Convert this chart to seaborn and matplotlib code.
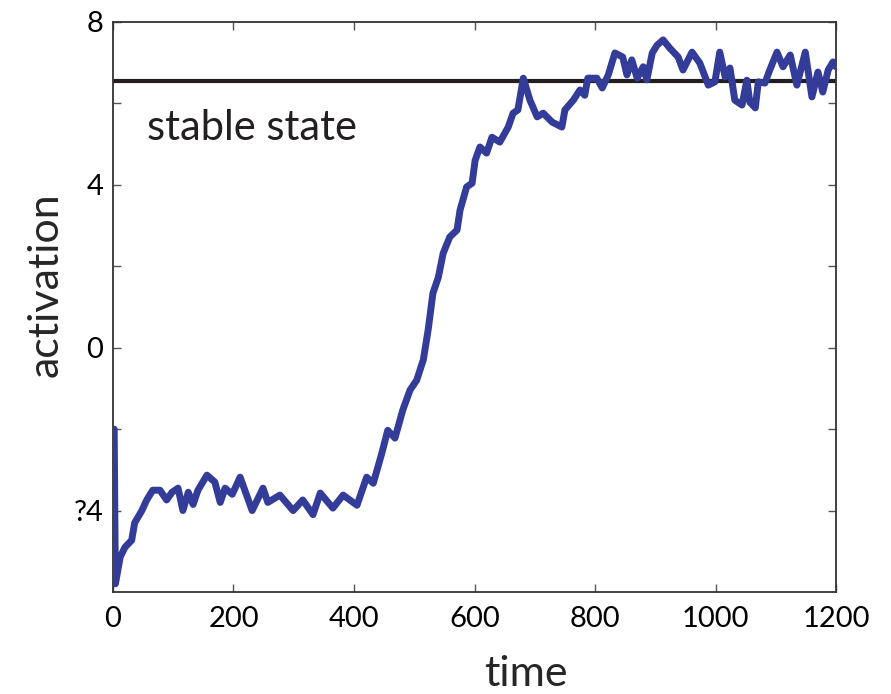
import matplotlib
matplotlib.use("Agg")
import matplotlib.pyplot as plt
import seaborn as sns
import pandas as pd

time = [2, 4, 12, 20, 31, 36, 48, 56, 66, 78, 89, 98, 108, 116, 125, 133, 141, 156, 169, 178,
        186, 198, 211, 231, 249, 257, 277, 299, 315, 332, 344, 365, 382, 405, 421, 432, 446, 456,
        468, 481, 493, 504, 515, 523, 531, 540, 548, 559, 571, 576, 587, 596, 601, 609, 620, 629,
        642, 656, 664, 672, 681, 692, 704, 714, 729, 745, 750, 764, 775, 783, 788, 803, 812, 822,
        833, 846, 853, 861, 870, 880, 886, 895, 903, 913, 924, 938, 946, 961, 974, 988, 999, 1007,
        1016, 1024, 1032, 1044, 1052, 1057, 1066, 1071, 1082, 1090, 1102, 1112, 1124, 1135, 1149,
        1160, 1170, 1178, 1187, 1195, 1200]
activation = [-2.0, -5.8, -5.14, -4.9, -4.73, -4.3, -4.0, -3.74, -3.5, -3.5, -3.74, -3.55, -3.45,
              -4.0, -3.55, -3.85, -3.5, -3.13, -3.3, -3.8, -3.45, -3.6, -3.18, -4.0, -3.45, -3.8,
              -3.62, -4.0, -3.74, -4.1, -3.57, -3.94, -3.62, -3.87, -3.18, -3.33, -2.6, -2.03,
              -2.22, -1.53, -1.04, -0.8, -0.3, 0.43, 1.34, 1.73, 2.32, 2.72, 2.89, 3.38, 3.95, 4.04,
              4.6, 4.93, 4.78, 5.17, 5.05, 5.42, 5.76, 5.84, 6.62, 6.08, 5.67, 5.76, 5.54, 5.42,
              5.84, 6.08, 6.33, 6.2, 6.62, 6.62, 6.38, 6.7, 7.24, 7.14, 6.7, 7.07, 6.62, 6.9, 6.58,
              7.24, 7.43, 7.56, 7.36, 7.14, 6.82, 7.26, 6.99, 6.45, 6.53, 7.26, 6.65, 6.87, 6.08,
              5.96, 6.57, 6.03, 5.89, 6.53, 6.5, 6.82, 7.26, 6.9, 7.19, 6.45, 7.26, 6.16, 6.77,
              6.28, 6.82, 7.02, 6.9]
stable_level = 6.55
x_ticks = [0, 200, 400, 600, 800, 1000, 1200]
y_ticks = [-4, -2, 0, 2, 4, 6, 8]
y_tick_labels = ["?4", "", "0", "", "4", "", "8"]

sns.set_style("white")
plt.rcParams["font.family"] = ["Lato", "DejaVu Sans"]

df = pd.DataFrame({"time": time, "activation": activation})

fig = plt.figure(figsize=(8.91, 6.94), dpi=100)
ax = fig.add_axes([0.1268, 0.147, 0.8115, 0.8213])

ax.axhline(stable_level, color="#231f20", lw=3.0, zorder=2)
sns.lineplot(data=df, x="time", y="activation", color="#333d99", lw=5.0, ax=ax, zorder=3)

ax.set_xlim(0, 1200)
ax.set_ylim(-6, 8)
ax.set_xticks(x_ticks)
ax.set_xticklabels([str(v) for v in x_ticks])
ax.set_yticks(y_ticks)
ax.set_yticklabels(y_tick_labels)
ax.tick_params(direction="in", length=6, width=1, colors="#555555", labelcolor="black",
               labelsize=21, top=True, right=True, bottom=True, left=True)
ax.tick_params(axis="y", pad=7)
ax.tick_params(axis="x", pad=10)
for s in ax.spines.values():
    s.set_color("#333333")
    s.set_linewidth(1.3)

ax.set_xlabel("time", fontsize=31, labelpad=17)
ax.set_ylabel("activation", fontsize=31, labelpad=6)
ax.xaxis.label.set_x(0.571)
ax.yaxis.label.set_y(0.539)
ax.text(56, 5.4, "stable state", fontsize=30, va="center", ha="left", color="#231f20")

fig.savefig("out.png", dpi=100)
